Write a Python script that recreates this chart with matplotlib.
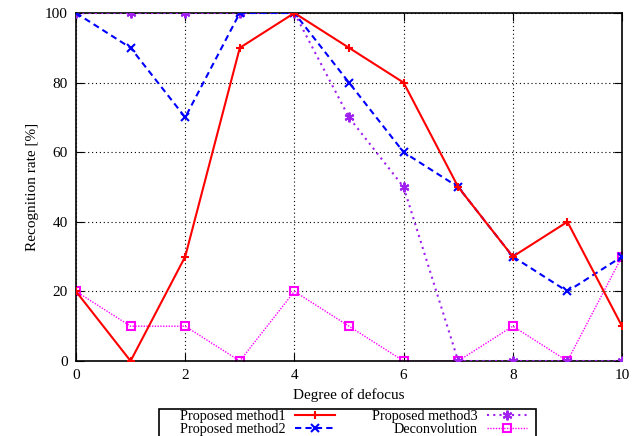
import matplotlib
matplotlib.use("Agg")
import matplotlib.pyplot as plt
from matplotlib.patches import Rectangle

plt.rcParams['font.family'] = ['Liberation Serif', 'DejaVu Serif']

x = [0, 1, 2, 3, 4, 5, 6, 7, 8, 9, 10]
method1 = [20, 0, 30, 90, 100, 90, 80, 50, 30, 40, 10]
method2 = [100, 90, 70, 100, 100, 80, 60, 50, 30, 20, 30]
method3 = [100, 100, 100, 100, 100, 70, 50, 0, 0, 0, 0]
deconv = [20, 10, 10, 0, 20, 10, 0, 0, 10, 0, 30]
labels = ["Proposed method1", "Proposed method2", "Proposed method3", "Deconvolution"]

W, H = 637, 436
fig = plt.figure(figsize=(W/100, H/100), dpi=100)
ax = fig.add_axes([76/W, 1-361/H, (622-76)/W, (361-13)/H])

l1, = ax.plot(x, method1, color='#ff0000', lw=1.5, marker='+', ms=6, mew=1.5, label=labels[0], zorder=5)
l2, = ax.plot(x, method2, color='#0000ff', lw=1.5, ls=(0, (3, 2)), marker='x', ms=6, mew=1.5, label=labels[1], zorder=4)
l3, = ax.plot(x, method3, color='#a020f0', lw=1.5, ls=(0, (1, 2)), marker=(6, 2, 0), ms=7, mew=1.5, label=labels[2], zorder=3)
l4, = ax.plot(x, deconv, color='#ff00ff', lw=1.0, ls=(0, (1, 1)), marker='s', ms=6, mfc='none', mew=1.5, label=labels[3], zorder=2)

ax.set_xlim(0, 10)
ax.set_ylim(0, 100)
ax.set_xticks([0, 2, 4, 6, 8, 10])
ax.set_yticks([0, 20, 40, 60, 80, 100])
ax.grid(True, color='black', ls=(0, (1, 2.5)), lw=0.8)
ax.tick_params(direction='in', top=True, right=True, length=6, labelsize=11, pad=6)
for s in ax.spines.values():
    s.set_linewidth(1.2)
ax.set_xlabel("Degree of defocus", fontsize=11)
ax.set_ylabel("Recognition rate [%]", fontsize=11)

# legend frame (extends past the bottom edge like the reference)
frame = Rectangle((159/W, 1-445/H), (536-159)/W, (445-409)/H, transform=fig.transFigure,
                  fill=False, edgecolor='black', lw=1.2)
fig.patches.append(frame)

leg = fig.legend(handles=[l1, l2, l3, l4], loc='upper right', bbox_to_anchor=(527/W, 1-410/H),
                 ncol=2, markerfirst=False, frameon=False,
                 fontsize=10.2, handlelength=2.85, columnspacing=2.6, labelspacing=0.0,
                 borderpad=0, handletextpad=0.65, borderaxespad=0)

fig.savefig("out.png", dpi=100)
